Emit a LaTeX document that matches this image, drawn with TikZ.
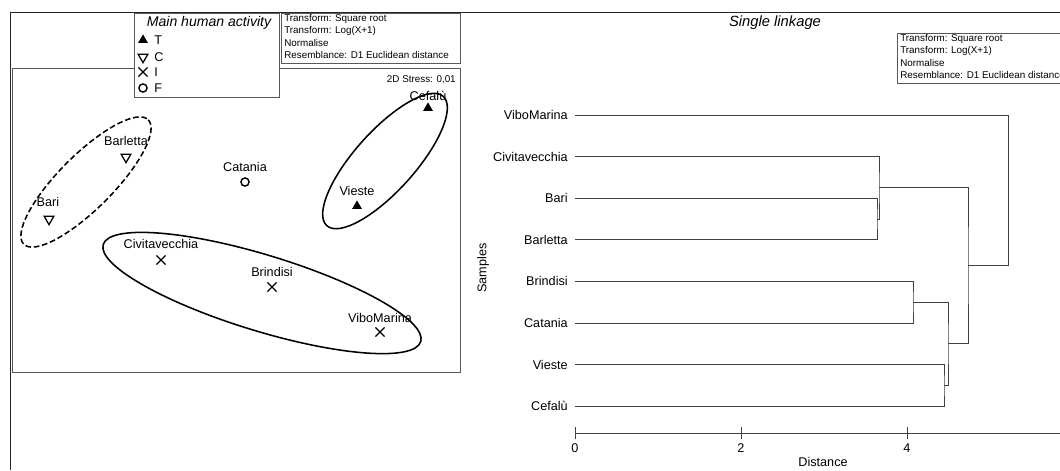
\documentclass[tikz,border=0pt]{standalone}
\usepackage{fontspec}
\setmainfont{Liberation Sans}
\usetikzlibrary{shapes.geometric,shapes.misc}

\tikzset{
  lbl/.style={font=\fontsize{9}{10}\selectfont, inner sep=0pt},
  info/.style={font=\fontsize{7}{8.9}\selectfont, inner sep=0pt, align=left, anchor=north west},
  boxline/.style={draw=black!65, line width=0.6pt},
  tri/.style={regular polygon, regular polygon sides=3, fill=black, inner sep=0pt, minimum size=8pt},
  trid/.style={regular polygon, regular polygon sides=3, shape border rotate=180, draw=black, line width=0.9pt, inner sep=0pt, minimum size=8pt},
  crs/.style={cross out, draw=black, line width=0.9pt, inner sep=0pt, minimum size=5.6pt},
  circ/.style={circle, draw=black, line width=1pt, inner sep=0pt, minimum size=5.8pt},
  grp/.style={line width=1.1pt},
  tree/.style={draw=black!75, line width=0.6pt},
}

\begin{document}
\begin{tikzpicture}[x=0.025cm, y=-0.025cm]
\useasboundingbox (0,0) rectangle (1060,470);

% outer frame
\draw [black!85, line width=0.6pt] (10.5,470) -- (10.5,12) -- (1060,12);

% MDS plot
\draw [boxline] (12,68) rectangle (460,372);
\node (stress) [info, anchor=east] at (456,80) {2D Stress: 0,01};

% legend
\draw [boxline, fill=white] (134,13) rectangle (279,97);
\node (legtitle) [font=\fontsize{10}{12}\selectfont\itshape, inner sep=0pt] at (209,23) {Main human activity};
\foreach \s/\t/\y in {tri/T/40, trid/C/57, crs/I/72, circ/F/88} {
  \node (sym\t) [\s] at (143,\y) {};
  \node (key\t) [lbl, anchor=west] at (154,\y) {\t};
}

% transform box (left)
\draw [boxline, fill=white] (281,13) rectangle (460,63);
\node (infoL) [info] at (284,14) {Transform: Square root\\Transform: Log(X+1)\\Normalise\\Resemblance: D1 Euclidean distance};

% groups
\draw [grp, dash pattern=on 4pt off 2pt, rotate around={45:(86,182)}] (86,182) ellipse (88 and 27);
\draw [grp, rotate around={48:(385,161)}] (385,161) ellipse (87 and 30);
\draw [grp, rotate around={-17:(262,293)}] (262,293) ellipse (166 and 38);

% samples
\node (cefalu) [tri] at (428,108) {};
\node (vieste) [tri] at (357,206) {};
\node (catania) [circ] at (245,182) {};
\node (barletta) [trid] at (126,157) {};
\node (bari) [trid] at (49,219) {};
\node (civita) [crs] at (161,260) {};
\node (brindisi) [crs] at (272,287) {};
\node (vibo) [crs] at (380,332) {};

\node (cefaluL) [lbl] at (428,96) {Cefalù};
\node (viesteL) [lbl] at (357,191) {Vieste};
\node (cataniaL) [lbl] at (245,167) {Catania};
\node (barlettaL) [lbl] at (126,141) {Barletta};
\node (bariL) [lbl] at (48,202) {Bari};
\node (civitaL) [lbl] at (161,244) {Civitavecchia};
\node (brindisiL) [lbl] at (272,272) {Brindisi};
\node (viboL) [lbl] at (380,318) {ViboMarina};

% dendrogram
\node (title) [font=\fontsize{10.5}{12}\selectfont\itshape, inner sep=0pt] at (775,23) {Single linkage};
\draw [boxline, fill=white] (897,33) rectangle (1066,83);
\node (infoR) [info] at (900,34) {Transform: Square root\\Transform: Log(X+1)\\Normalise\\Resemblance: D1 Euclidean distance};

\foreach \k/\t [count=\i] in {vibo/ViboMarina, civ/Civitavecchia, bari/Bari, barl/Barletta, brin/Brindisi, cat/Catania, vie/Vieste, cef/Cefalù} {
  \node (leaf-\k) [lbl, anchor=east] at (568,{115+41.6*(\i-1)}) {\t};
  \coordinate (s-\k) at (575,{115+41.6*(\i-1)});
}

\coordinate (m-bb) at (877,219);
\coordinate (m-cbb) at (879,187.8);
\coordinate (m-bc) at (913,302.2);
\coordinate (m-vc) at (944,385.4);
\coordinate (m-bcvc) at (948,343.8);
\coordinate (m-g) at (968,265.8);
\coordinate (m-r) at (1008,190.4);

\draw [tree] (s-bari) -| (m-bb) |- (s-barl);
\draw [tree] (s-civ) -| (m-cbb) |- (m-bb);
\draw [tree] (s-brin) -| (m-bc) |- (s-cat);
\draw [tree] (s-vie) -| (m-vc) |- (s-cef);
\draw [tree] (m-bc) -| (m-bcvc) |- (m-vc);
\draw [tree] (m-cbb) -| (m-g) |- (m-bcvc);
\draw [tree] (s-vibo) -| (m-r) |- (m-g);

% axis
\coordinate (ax0) at (575,433);
\coordinate (axE) at (1060,433);
\draw [tree] (ax0) -- (axE);
\foreach \v in {0,2,4} {
  \draw [tree] ({575+83*\v},427) -- ({575+83*\v},439);
  \node (tick\v) [lbl] at ({575+83*\v},448) {\v};
}
\node (distL) [lbl] at (823,462) {Distance};
\node (sampL) [lbl, rotate=90] at (483,268) {Samples};
\end{tikzpicture}
\end{document}
